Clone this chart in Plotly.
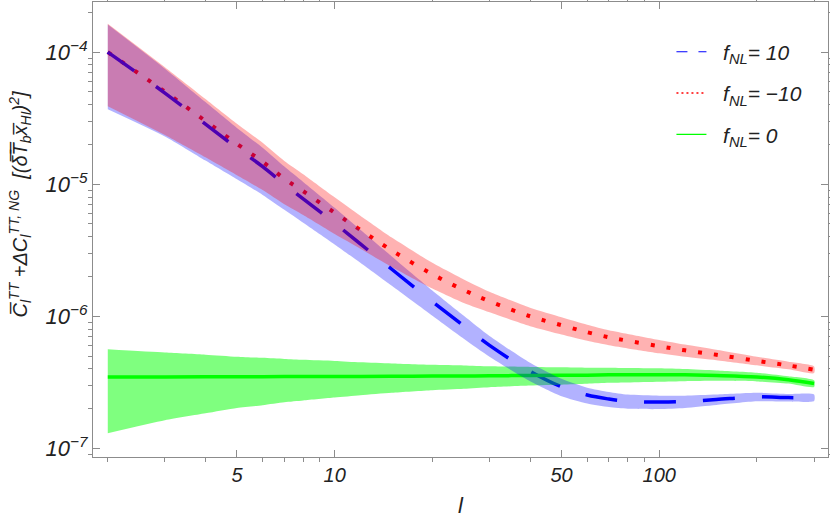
import plotly.graph_objects as go

# multipole values
ell = [2, 3, 4, 5, 6, 7, 8, 10, 12, 15, 20, 25, 30, 40, 50, 60, 70, 80, 100, 120, 150, 200, 250, 300]

# f_NL = 10 (blue, dashed)
cl_p10 = [1.00e-4, 4.90e-5, 2.85e-5, 1.88e-5, 1.36e-5, 1.00e-5, 7.74e-6, 5.07e-6, 3.53e-6, 2.27e-6, 1.29e-6, 8.45e-7,
          6.02e-7, 3.83e-7, 2.92e-7, 2.53e-7, 2.36e-7, 2.27e-7, 2.24e-7, 2.26e-7, 2.34e-7, 2.45e-7, 2.42e-7, 2.42e-7]
cl_p10_hi = [1.62e-4, 7.50e-5, 4.19e-5, 2.67e-5, 1.89e-5, 1.36e-5, 1.04e-5, 6.64e-6, 4.52e-6, 2.84e-6, 1.57e-6, 1.01e-6,
             7.10e-7, 4.44e-7, 3.36e-7, 2.88e-7, 2.67e-7, 2.55e-7, 2.50e-7, 2.50e-7, 2.55e-7, 2.63e-7, 2.58e-7, 2.56e-7]
cl_p10_lo = [3.70e-5, 2.30e-5, 1.51e-5, 1.09e-5, 8.30e-6, 6.40e-6, 5.11e-6, 3.50e-6, 2.54e-6, 1.70e-6, 1.01e-6, 6.76e-7,
             4.94e-7, 3.22e-7, 2.48e-7, 2.18e-7, 2.05e-7, 1.99e-7, 1.98e-7, 2.02e-7, 2.13e-7, 2.27e-7, 2.26e-7, 2.28e-7]

# f_NL = -10 (red, dotted)
cl_m10 = [1.00e-4, 5.02e-5, 3.01e-5, 2.02e-5, 1.48e-5, 1.10e-5, 8.85e-6, 6.08e-6, 4.51e-6, 3.15e-6, 2.08e-6, 1.58e-6,
          1.30e-6, 1.00e-6, 8.55e-7, 7.57e-7, 6.93e-7, 6.52e-7, 5.93e-7, 5.52e-7, 5.11e-7, 4.59e-7, 4.24e-7, 3.94e-7]
cl_m10_hi = [1.64e-4, 7.68e-5, 4.42e-5, 2.87e-5, 2.06e-5, 1.50e-5, 1.19e-5, 7.96e-6, 5.77e-6, 3.94e-6, 2.54e-6, 1.90e-6,
             1.53e-6, 1.16e-6, 9.83e-7, 8.63e-7, 7.83e-7, 7.34e-7, 6.61e-7, 6.10e-7, 5.57e-7, 4.93e-7, 4.52e-7, 4.17e-7]
cl_m10_lo = [3.90e-5, 2.36e-5, 1.60e-5, 1.17e-5, 9.03e-6, 7.04e-6, 5.84e-6, 4.20e-6, 3.25e-6, 2.36e-6, 1.62e-6, 1.26e-6,
             1.07e-6, 8.40e-7, 7.27e-7, 6.51e-7, 6.03e-7, 5.71e-7, 5.25e-7, 4.94e-7, 4.65e-7, 4.25e-7, 3.96e-7, 3.71e-7]

# f_NL = 0 (green, solid)
cl_0 = [3.47e-7, 3.47e-7, 3.48e-7, 3.48e-7, 3.48e-7, 3.49e-7, 3.49e-7, 3.50e-7, 3.50e-7, 3.51e-7, 3.52e-7, 3.53e-7,
        3.54e-7, 3.56e-7, 3.57e-7, 3.58e-7, 3.60e-7, 3.60e-7, 3.61e-7, 3.60e-7, 3.56e-7, 3.47e-7, 3.30e-7, 3.09e-7]
cl_0_hi = [5.62e-7, 5.31e-7, 5.12e-7, 4.94e-7, 4.84e-7, 4.75e-7, 4.68e-7, 4.59e-7, 4.48e-7, 4.39e-7, 4.29e-7, 4.24e-7,
           4.18e-7, 4.13e-7, 4.11e-7, 4.08e-7, 4.07e-7, 4.05e-7, 4.03e-7, 3.98e-7, 3.88e-7, 3.73e-7, 3.51e-7, 3.27e-7]
cl_0_lo = [1.30e-7, 1.63e-7, 1.84e-7, 2.02e-7, 2.12e-7, 2.23e-7, 2.30e-7, 2.42e-7, 2.52e-7, 2.63e-7, 2.75e-7, 2.82e-7,
           2.90e-7, 2.99e-7, 3.03e-7, 3.08e-7, 3.13e-7, 3.15e-7, 3.19e-7, 3.22e-7, 3.24e-7, 3.21e-7, 3.09e-7, 2.91e-7]

legend_names = ["f<sub>NL</sub>= 10", "f<sub>NL</sub>= \u221210", "f<sub>NL</sub>= 0"]

# axis ticks
x_major = [5, 10, 50, 100]
x_minor = [2, 3, 4, 6, 7, 8, 9, 20, 30, 40, 60, 70, 80, 90, 200, 300]
y_major = [1e-7, 1e-6, 1e-5, 1e-4]
y_major_text = ["10<sup>\u22127</sup>", "10<sup>\u22126</sup>", "10<sup>\u22125</sup>", "10<sup>\u22124</sup>"]
y_minor = [m * 10.0 ** k for k in range(-8, -3) for m in range(2, 10)]

FONT = "Liberation Sans, Arial, sans-serif"
AXIS_GREY = "#8c8c8c"


def band(x, hi, lo, color):
    return go.Scatter(
        x=x + x[::-1], y=hi + lo[::-1], fill="toself", fillcolor=color,
        mode="lines", line=dict(width=0, shape="spline", smoothing=0.6),
        hoverinfo="skip", showlegend=False,
    )


fig = go.Figure()

# lines first, translucent bands drawn over them
fig.add_trace(go.Scatter(x=ell, y=cl_m10, mode="lines", showlegend=False,
                         line=dict(color="#ff0000", width=4, dash="4px,12px", shape="spline")))
fig.add_trace(go.Scatter(x=ell, y=cl_p10, mode="lines", showlegend=False,
                         line=dict(color="#0000ff", width=3.5, dash="32px,27px", shape="spline")))
fig.add_trace(go.Scatter(x=ell, y=cl_0, mode="lines", showlegend=False,
                         line=dict(color="#00ff00", width=3.5, shape="spline")))

fig.add_trace(band(ell, cl_0_hi, cl_0_lo, "rgba(0,255,0,0.5)"))
fig.add_trace(band(ell, cl_p10_hi, cl_p10_lo, "rgba(0,0,255,0.3)"))
fig.add_trace(band(ell, cl_m10_hi, cl_m10_lo, "rgba(255,0,0,0.3)"))

# legend entries (thin samples like the original)
legend_styles = [dict(color="#0000ff", width=1.2, dash="11px,11px"),
                 dict(color="#ff0000", width=1.5, dash="2px,3px"),
                 dict(color="#00ff00", width=1.2)]
for i, (name, style) in enumerate(zip(legend_names, legend_styles)):
    fig.add_trace(go.Scatter(x=[None], y=[None], mode="lines", name="\u00a0\u00a0" + name, line=style,
                             legendgroup="g%d" % i))

fig.update_xaxes(
    type="log", range=[0.2555, 2.52],
    tickmode="array", tickvals=x_major, ticktext=[str(v) for v in x_major],
    ticks="inside", ticklen=7, tickcolor=AXIS_GREY,
    minor=dict(tickmode="array", tickvals=x_minor, ticklen=4, tickcolor=AXIS_GREY),
    showline=True, linecolor=AXIS_GREY, mirror="ticks", showgrid=False, zeroline=False,
    tickfont=dict(family=FONT, size=20, color="#222", style="italic"),
    title=dict(text="l", font=dict(family=FONT, size=22, color="#222", style="italic"), standoff=12),
)
fig.update_yaxes(
    type="log", range=[-7.066, -3.62],
    tickmode="array", tickvals=y_major, ticktext=y_major_text,
    ticks="inside", ticklen=7, tickcolor=AXIS_GREY,
    minor=dict(tickmode="array", tickvals=y_minor, ticklen=4, tickcolor=AXIS_GREY),
    showline=True, linecolor=AXIS_GREY, mirror="ticks", showgrid=False, zeroline=False,
    tickfont=dict(family=FONT, size=22, color="#222", style="italic"),
)

fig.add_annotation(
    text="C\u0305<sub>l</sub><sup>TT</sup> +\u0394C<sub>l</sub><sup>TT, NG</sup>  "
         "[(\u03b4\u0305T\u0305<sub>b</sub>x\u0305<sub>HI</sub>)<sup>2</sup>]",
    xref="paper", yref="paper", x=0, y=0.555, xshift=-73, xanchor="center", yanchor="middle",
    textangle=-90, showarrow=False,
    font=dict(family=FONT, size=20, color="#222", style="italic"),
)

fig.update_layout(
    width=830, height=519,
    margin=dict(l=93, r=2, t=2, b=62),
    paper_bgcolor="white", plot_bgcolor="white",
    legend=dict(x=0.787, y=0.935, xanchor="left", yanchor="top", bgcolor="rgba(0,0,0,0)",
                traceorder="grouped", tracegroupgap=11,
                font=dict(family=FONT, size=21, color="#222", style="italic")),
)

# drop the default page margin so the figure sits at the window corner
fig.write_html("out.html", config={"displayModeBar": False},
               post_script="document.body.style.margin='0';")
